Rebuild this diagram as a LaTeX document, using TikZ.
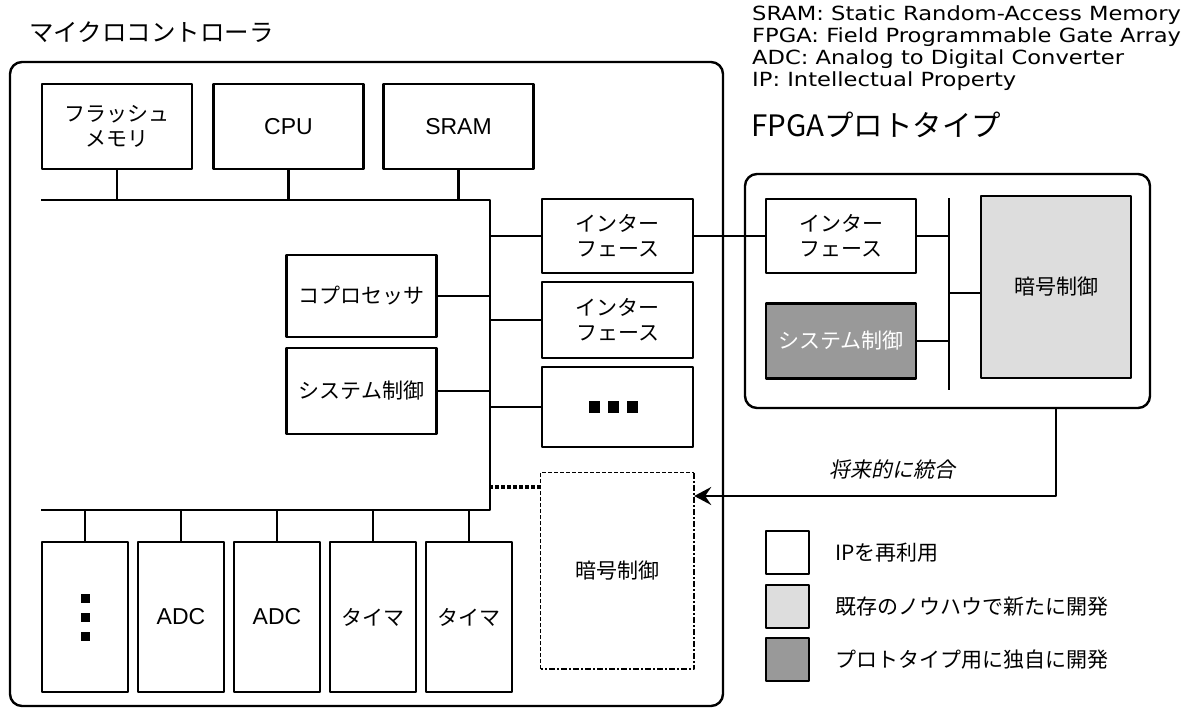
\documentclass[tikz,border=0pt]{standalone}
\usepackage{fontspec}
\setmainfont{Noto Sans CJK JP}
\newfontfamily\slantjp[FakeSlant=0.2]{Noto Sans CJK JP}
\newfontfamily\abbrfont[FakeStretch=1.16]{DejaVu Sans}
\newfontfamily\latinfont{Liberation Sans}
\usetikzlibrary{arrows.meta}
\definecolor{lightfill}{HTML}{DDDDDD}
\definecolor{darkfill}{HTML}{999999}
\tikzset{
  every picture/.style={
    line join=round,
    >=Stealth,
  },
  frame/.style={draw, line width=2.4pt, rounded corners=12pt},
  blk/.style={draw, line width=2.4pt, fill=white, inner sep=0pt, align=center,
    font=\fontsize{21}{25}\selectfont},
  latin/.style={font=\latinfont\fontsize{23}{26}\selectfont},
  topblk/.style={blk, minimum width=150pt, minimum height=85pt},
  lowblk/.style={blk, minimum width=86pt, minimum height=150pt},
  sideblk/.style={blk, minimum width=151pt},
  bus/.style={line width=2.4pt},
  dotlink/.style={line width=3.2pt, dash pattern=on 4pt off 2pt},
  legbox/.style={draw, line width=2.4pt, minimum width=43pt, minimum height=43pt, inner sep=0pt},
  legtext/.style={anchor=west, inner sep=0pt, font=\fontsize{21}{25}\selectfont},
}
\begin{document}
\begin{tikzpicture}[x=1pt,y=-1pt]
\useasboundingbox (0,0) rectangle (1185,709);
% microcontroller
\node[frame, minimum width=713pt, minimum height=644pt] (mcu) at (366.5,384) {};
\node[anchor=west, inner sep=0pt, font=\fontsize{24.5}{28}\selectfont] (mcutitle) at (29,32) {マイクロコントローラ};
\node[topblk] (flash) at (117,126.5) {フラッシュ\\メモリ};
\node[topblk, latin] (cpu) at (288.5,126.5) {CPU};
\node[topblk, latin] (sram) at (458.5,126.5) {SRAM};
\coordinate (busTL) at (41,200);
\coordinate (busTR) at (490,200);
\coordinate (busBR) at (490,510);
\coordinate (busBL) at (41,510);
\draw[bus] (busTL) -- (busTR) -- (busBR) -- (busBL);
\foreach \b in {flash,cpu,sram}
  \draw[bus] (\b.south) -- (\b.south |- busTL);
\node[blk, minimum width=150pt, minimum height=82pt] (cop) at (361.5,296) {コプロセッサ};
\node[blk, minimum width=150pt, minimum height=86pt] (sys) at (361.5,391) {システム制御};
\foreach \b in {cop,sys}
  \draw[bus] (\b.east) -- (\b.east -| busTR);
\node[sideblk, minimum height=74pt] (if1) at (617.5,236) {インター\\フェース};
\node[sideblk, minimum height=76pt] (if2) at (617.5,320) {インター\\フェース};
\node[sideblk, minimum height=80pt] (dots) at (617.5,407) {};
\foreach \b in {if1,if2,dots}
  \draw[bus] (\b.west) -- (\b.west -| busTR);
\foreach \d in {-19,0,19}
  \fill ([shift={(\d-5.5-4,-6)}]dots.center) rectangle +(11,12);
% crypto to be merged
\node[blk, draw=none, minimum width=151pt, minimum height=194pt] (crym) at (617.5,571) {暗号制御};
\draw[line width=1.2pt, dash pattern=on 4pt off 2pt] (crym.south west) -- (crym.north west) -- (crym.north east);
\draw[line width=2.4pt, dash pattern=on 6pt off 2pt on 2pt off 2pt] (crym.north east) -- (crym.south east) -- (crym.south west);
\coordinate (tap) at ([yshift=84pt]crym.west);
\draw[dotlink] (tap) -- (tap -| busTR);
% peripherals
\foreach \n/\x/\t in {pdots/85/{}, tima/373/タイマ, timb/469/タイマ}{
  \node[lowblk] (\n) at (\x,617) {\t};
  \draw[bus] (\n.north) -- (\n.north |- busBL);
}
\foreach \n/\x in {adca/181, adcb/277}{
  \node[lowblk, latin] (\n) at (\x,617) {ADC};
  \draw[bus] (\n.north) -- (\n.north |- busBL);
}
\foreach \d in {-19,0,19}
  \fill ([shift={(-4.5,\d-4.5)}]pdots.center) rectangle +(9,9);
% FPGA prototype
\node[frame, minimum width=405pt, minimum height=234pt] (fpga) at (947.5,291) {};
\node[anchor=west, inner sep=0pt, font=\fontsize{29.5}{34}\selectfont] (fpgatitle) at (751,125) {FPGAプロトタイプ};
\node[blk, minimum width=150pt, minimum height=74pt] (fif) at (841,236) {インター\\フェース};
\node[blk, fill=darkfill, text=white, minimum width=150pt, minimum height=75pt] (fsys) at (841,341) {システム制御};
\node[blk, fill=lightfill, minimum width=150pt, minimum height=182pt] (fcry) at (1056,287) {暗号制御};
\coordinate (fbusT) at (949,198);
\coordinate (fbusB) at (949,390);
\draw[bus] (fbusT) -- (fbusB);
\draw[bus] (fif.east) -- (fif.east -| fbusT);
\draw[bus] (fsys.east) -- (fsys.east -| fbusT);
\draw[bus] ([yshift=-6pt]fcry.west) -- ([yshift=-6pt]fcry.west -| fbusT);
\draw[bus] (if1.east) -- (fif.west);
% future merge
\coordinate (merge) at ([yshift=75pt]crym.east);
\draw[line width=2pt, -{Stealth[length=17pt, width=18pt, inset=6pt]}] (fpga.south -| fcry.south) |- (merge);
\node[font=\slantjp\fontsize{21}{24}\selectfont] (futurelbl) at (892,470) {将来的に統合};
% legend
\node[legbox] (legA) at (787.5,552.5) {};
\node[legbox, fill=lightfill] (legB) at (787.5,606.5) {};
\node[legbox, fill=darkfill] (legC) at (787.5,659.5) {};
\node[legtext] (legAtxt) at (835,552.5) {IPを再利用};
\node[legtext] (legBtxt) at (835,606.5) {既存のノウハウで新たに開発};
\node[legtext] (legCtxt) at (835,659.5) {プロトタイプ用に独自に開発};
% abbreviations
\node[anchor=north west, align=left, inner sep=0pt, font=\abbrfont\fontsize{19.5}{22}\selectfont] (abbr) at (752,5)
  {SRAM: Static Random-Access Memory\\FPGA: Field Programmable Gate Array\\ADC: Analog to Digital Converter\\IP: Intellectual Property};
\end{tikzpicture}
\end{document}
